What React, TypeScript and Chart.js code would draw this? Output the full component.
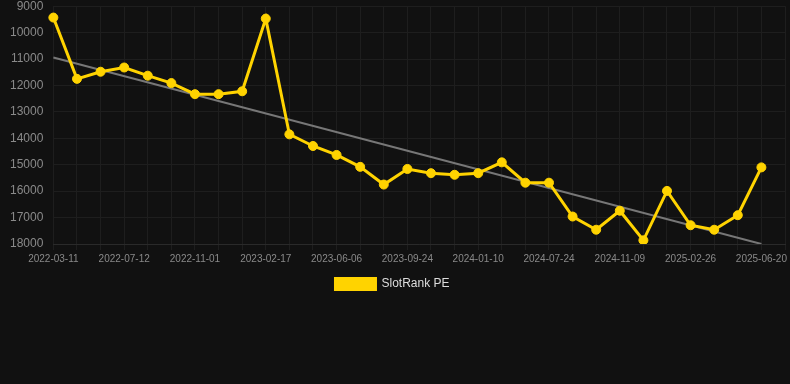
import React, { useEffect, useRef } from "react";
import { Chart, registerables } from "chart.js";

Chart.register(...registerables);

const categories = [
  "2022-03-11", "2022-04-21", "2022-06-01", "2022-07-12", "2022-08-22", "2022-10-01",
  "2022-11-01", "2022-12-08", "2023-01-13", "2023-02-17", "2023-03-25", "2023-05-01",
  "2023-06-06", "2023-07-13", "2023-08-18", "2023-09-24", "2023-10-31", "2023-12-05",
  "2024-01-10", "2024-04-01", "2024-06-12", "2024-07-24", "2024-08-29", "2024-10-04",
  "2024-11-09", "2024-12-16", "2025-01-21", "2025-02-26", "2025-04-04", "2025-05-13",
  "2025-06-20", "2025-07-27",
];

const slotRankValues: (number | null)[] = [
  9430, 11750, 11480, 11320, 11630, 11910, 12330, 12330, 12220, 9470,
  13850, 14290, 14630, 15080, 15750, 15160, 15320, 15380, 15320, 14910,
  15680, 15680, 16960, 17460, 16740, 17860, 15990, 17290, 17460, 16910,
  15100, null,
];

const trendStart = 10940;
const trendEnd = 18000;
const trendValues: (number | null)[] = categories.map((_, i) =>
  i === 0 ? trendStart : i === 30 ? trendEnd : null
);

const yTicks = { min: 9000, max: 18000, step: 1000 };

export default function App() {
  const ref = useRef<HTMLCanvasElement | null>(null);

  useEffect(() => {
    document.body.style.margin = "0";
    document.body.style.background = "#111111";
    const ctx = ref.current!;
    const chart = new Chart(ctx, {
      type: "line",
      data: {
        labels: categories,
        datasets: [
          {
            label: "SlotRank PE",
            data: slotRankValues,
            borderColor: "#FFD300",
            backgroundColor: "#FFD300",
            borderWidth: 3,
            pointRadius: 4.5,
            pointHoverRadius: 4.5,
            pointBorderWidth: 1,
            pointBackgroundColor: "#FFD300",
            pointBorderColor: "#FFD300",
            tension: 0,
          },
          {
            label: "trend",
            data: trendValues,
            borderColor: "#777777",
            backgroundColor: "#777777",
            borderWidth: 2,
            pointRadius: 0,
            spanGaps: true,
            tension: 0,
          },
        ],
      },
      options: {
        animation: false,
        responsive: false,
        maintainAspectRatio: false,
        layout: { autoPadding: false, padding: { left: 0, right: 5, top: 0, bottom: 0 } },
        plugins: {
          legend: {
            position: "bottom",
            labels: {
              color: "#dddddd",
              font: { family: "Arial, 'Liberation Sans', sans-serif", size: 12 },
              boxWidth: 40,
              boxHeight: 11,
              filter: (item) => item.text === "SlotRank PE",
            },
          },
          tooltip: { enabled: false },
        },
        scales: {
          x: {
            offset: false,
            grid: { color: "#1e1e1e", tickLength: 6 },
            border: { color: "#2a2a2a" },
            ticks: {
              color: "#8a8a8a",
              font: { family: "Arial, 'Liberation Sans', sans-serif", size: 10 },
              autoSkip: false,
              maxRotation: 0,
              callback: (_v, i) => (i % 3 === 0 ? categories[i as number] : ""),
            },
          },
          y: {
            reverse: true,
            min: yTicks.min,
            max: yTicks.max,
            grid: { color: "#1e1e1e", drawTicks: false },
            border: { display: false },
            ticks: {
              stepSize: yTicks.step,
              padding: 10,
              color: "#8a8a8a",
              font: { family: "Arial, 'Liberation Sans', sans-serif", size: 12 },
              callback: (v) => String(v),
            },
          },
        },
      },
    });
    return () => chart.destroy();
  }, []);

  return (
    <div style={{ background: "#111111", width: 790, height: 384, overflow: "hidden" }}>
      <canvas ref={ref} width={790} height={311} style={{ display: "block", marginTop: -11 }} />
    </div>
  );
}
